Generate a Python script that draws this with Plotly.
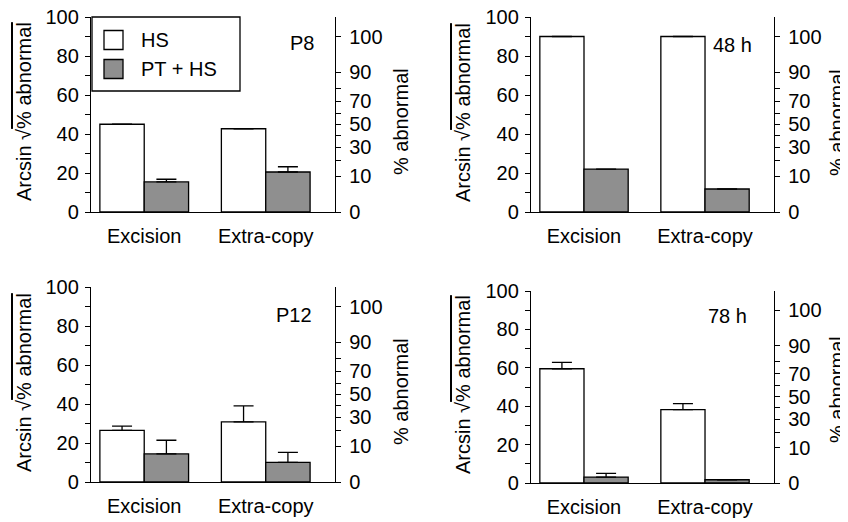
import numpy as np
import plotly.graph_objects as go

# page is 848x522; the HTML body adds an 8 px margin, so the figure is 8 px smaller
PAGE_W, PAGE_H = 848, 522
OFF = 8
W, H = PAGE_W - OFF, PAGE_H - OFF

categories = ["Excision", "Extra-copy"]
series_names = ["HS", "PT + HS"]
panel_labels = ["P8", "48 h", "P12", "78 h"]

# arcsin sqrt(% abnormal) values (degrees), per panel
p8_hs = [45.0, 42.7]
p8_pt = [15.4, 20.5]
p8_hs_err = [0.0, 0.0]
p8_pt_err = [1.4, 2.7]

h48_hs = [90.0, 90.0]
h48_pt = [22.0, 11.8]
h48_hs_err = [0.0, 0.0]
h48_pt_err = [0.0, 0.0]

p12_hs = [26.5, 30.8]
p12_pt = [14.4, 10.1]
p12_hs_err = [2.2, 8.2]
p12_pt_err = [7.0, 5.1]

h78_hs = [59.5, 38.2]
h78_pt = [3.1, 1.7]
h78_hs_err = [3.3, 3.1]
h78_pt_err = [1.9, 0.0]

left_ticks = [0, 10, 20, 30, 40, 50, 60, 70, 80, 90, 100]
left_labels = ["0", "", "20", "", "40", "", "60", "", "80", "", "100"]
right_pct = [0, 10, 20, 30, 40, 50, 60, 70, 80, 90, 100]
right_labels = ["0", "10", "", "30", "", "50", "", "70", "", "90", "100"]

FONT = "Liberation Sans, Arial, Helvetica, sans-serif"
FS = 20
GRAY = "#8f8f8f"

# positions below are in page pixels
panels = [
    dict(hs=p8_hs, pt=p8_pt, hse=p8_hs_err, pte=p8_pt_err, x=(91, 335), y=(17, 212),
         lab=(302, 43), ltitle=(24, 112), rtitle=(401, 122)),
    dict(hs=h48_hs, pt=h48_pt, hse=h48_hs_err, pte=h48_pt_err, x=(531, 774), y=(17, 212),
         lab=(732, 45), ltitle=(463, 112), rtitle=(837, 123)),
    dict(hs=p12_hs, pt=p12_pt, hse=p12_hs_err, pte=p12_pt_err, x=(91, 335), y=(287, 482),
         lab=(294, 315), ltitle=(24, 383), rtitle=(401, 392)),
    dict(hs=h78_hs, pt=h78_pt, hse=h78_hs_err, pte=h78_pt_err, x=(531, 774), y=(291, 483),
         lab=(727, 316), ltitle=(463, 384), rtitle=(837, 390)),
]

right_vals = [float(np.degrees(np.arcsin(np.sqrt(p / 100.0)))) for p in right_pct]

fig = go.Figure()
layout = dict(
    width=W, height=H, margin=dict(l=0, r=0, t=0, b=0, autoexpand=False),
    paper_bgcolor="white", plot_bgcolor="white",
    showlegend=False, barmode="group", bargap=0.27, bargroupgap=0,
    font=dict(family=FONT, size=FS, color="black"),
)
annotations = []
shapes = []


def px(xp):
    return (xp - OFF) / W


def py(yp):
    return 1 - (yp - OFF) / H


for i, p in enumerate(panels):
    k = i + 1
    xa = "x" if k == 1 else f"x{k}"
    yl_n = 2 * i + 1
    yr_n = 2 * i + 2
    yl = "y" if yl_n == 1 else f"y{yl_n}"
    yr = f"y{yr_n}"
    for name, vals, errs, color in [("HS", p["hs"], p["hse"], "white"),
                                    ("PT + HS", p["pt"], p["pte"], GRAY)]:
        fig.add_trace(go.Bar(
            x=categories, y=vals, name=name, xaxis=xa, yaxis=yl,
            marker=dict(color=color, line=dict(color="black", width=1.3)),
            error_y=dict(type="data", symmetric=False, array=errs,
                         arrayminus=[0] * len(errs), color="black",
                         thickness=1.3, width=10),
            offsetgroup=name,
        ))
    fig.add_trace(go.Scatter(x=[], y=[], xaxis=xa, yaxis=yr, showlegend=False))

    xkey = "xaxis" if k == 1 else f"xaxis{k}"
    ylkey = "yaxis" if yl_n == 1 else f"yaxis{yl_n}"
    yrkey = f"yaxis{yr_n}"
    layout[xkey] = dict(
        domain=[px(p["x"][0]), px(p["x"][1])], anchor=yl, type="category",
        range=[-0.438, 1.57], showline=True, linecolor="black", linewidth=1.3,
        ticks="", showgrid=False, zeroline=False, ticklabelstandoff=6,
        tickfont=dict(size=FS), fixedrange=True, automargin=False,
        ticklabeloverflow="allow",
    )
    layout[ylkey] = dict(
        domain=[py(p["y"][1]), py(p["y"][0])], anchor=xa, range=[0, 100],
        tickvals=left_ticks, ticktext=left_labels, ticks="outside", ticklen=5,
        tickwidth=1.3, tickcolor="black", showline=True, linecolor="black",
        linewidth=1.3, showgrid=False, zeroline=False, tickfont=dict(size=FS),
        ticklabelstandoff=2, automargin=False, ticklabeloverflow="allow",
    )
    layout[yrkey] = dict(
        domain=[py(p["y"][1]), py(p["y"][0])], anchor=xa, overlaying=yl,
        side="right", range=[0, 100], tickvals=right_vals, ticktext=right_labels,
        ticks="outside", ticklen=5, tickwidth=1.3, tickcolor="black",
        showline=True, linecolor="black", linewidth=1.3, showgrid=False,
        zeroline=False, tickfont=dict(size=FS), ticklabelstandoff=4,
        automargin=False, ticklabeloverflow="allow",
    )
    annotations.append(dict(
        text=panel_labels[i], x=px(p["lab"][0]), y=py(p["lab"][1]),
        xref="paper", yref="paper", showarrow=False, xanchor="center",
        yanchor="middle", font=dict(size=FS)))
    annotations.append(dict(
        text='Arcsin √<span style="text-decoration:overline">% abnormal</span>',
        x=px(p["ltitle"][0]), y=py(p["ltitle"][1]), xref="paper", yref="paper",
        showarrow=False, textangle=-90, xanchor="center", yanchor="middle",
        font=dict(size=FS)))
    annotations.append(dict(
        text="% abnormal", x=px(p["rtitle"][0]), y=py(p["rtitle"][1]),
        xref="paper", yref="paper", showarrow=False, textangle=-90,
        xanchor="center", yanchor="middle", font=dict(size=FS)))

# Legend (drawn manually in the first panel)
shapes.append(dict(type="rect", xref="paper", yref="paper",
                   x0=px(92), x1=px(240), y0=py(91), y1=py(17),
                   line=dict(color="black", width=1.3), fillcolor="white", layer="above"))
for j, (name, color, yc) in enumerate([(series_names[0], "white", 40),
                                       (series_names[1], GRAY, 69)]):
    shapes.append(dict(type="rect", xref="paper", yref="paper",
                       x0=px(104), x1=px(123), y0=py(yc + 9.5), y1=py(yc - 9.5),
                       line=dict(color="black", width=1.3), fillcolor=color,
                       layer="above"))
    annotations.append(dict(text=name, x=px(139), y=py(yc), xref="paper",
                            yref="paper", showarrow=False, xanchor="left",
                            yanchor="middle", font=dict(size=FS)))

layout["annotations"] = annotations
layout["shapes"] = shapes
fig.update_layout(**layout)
fig.write_html("out.html")
